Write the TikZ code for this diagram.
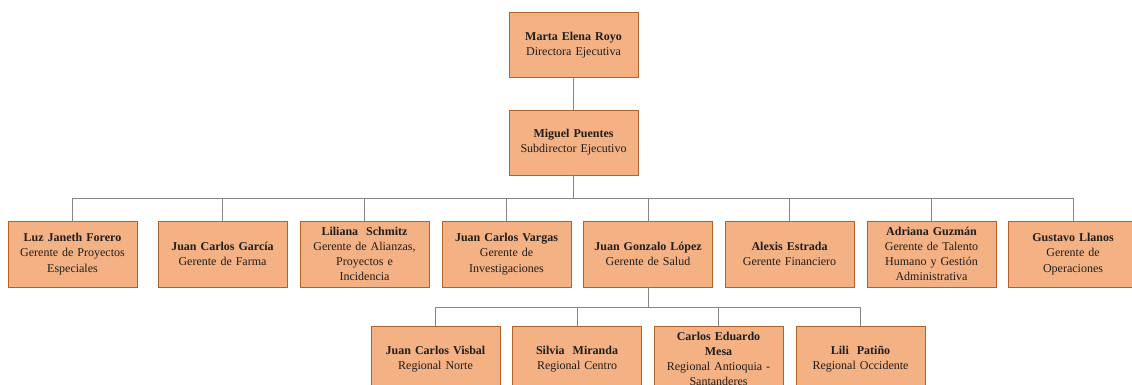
\documentclass[tikz,border=0pt]{standalone}
\usepackage{fontspec}
\setmainfont{Liberation Serif}
\begin{document}
\begin{tikzpicture}[x=1pt,y=-1pt,
  card/.style={draw=cardedge, fill=cardfill, line width=0.9pt,
    minimum width=129pt, minimum height=66pt, text width=127pt,
    align=center, inner sep=0pt, font=\fontsize{12}{15.2}\selectfont, text=inkdark},
  small/.style={card, minimum height=65pt},
  link/.style={draw=linkgray, line width=0.9pt}]
\definecolor{cardfill}{HTML}{F4B183}
\definecolor{cardedge}{HTML}{B4612A}
\definecolor{linkgray}{HTML}{858585}
\definecolor{inkdark}{HTML}{1E1E1E}

\useasboundingbox (0,0) rectangle (1132,385);
\fill[white] (0,0) rectangle (1132,385);
\clip (0,0) rectangle (1132,385);

% direction
\node[small] (dir) at (573.5,45) {\textbf{Marta Elena Royo}\\Directora Ejecutiva};
\node[small] (sub) at (573.5,142.5) {\textbf{Miguel Puentes}\\Subdirector Ejecutivo};

% managers
\node[card] (g1) at (72.5,254)   {\textbf{Luz Janeth Forero}\\Gerente de Proyectos\\Especiales};
\node[card] (g2) at (222.5,254)  {\textbf{Juan Carlos García}\\Gerente de Farma};
\node[card] (g3) at (364.5,254)  {\textbf{Liliana~ Schmitz}\\Gerente de Alianzas,\\Proyectos e\\Incidencia};
\node[card] (g4) at (506.5,254)  {\textbf{Juan Carlos Vargas}\\Gerente de\\Investigaciones};
\node[card] (g5) at (648,254)    {\textbf{Juan Gonzalo López}\\Gerente de Salud};
\node[card] (g6) at (789.5,254)  {\textbf{Alexis Estrada}\\Gerente Financiero};
\node[card] (g7) at (931.5,254)  {\textbf{Adriana Guzmán}\\Gerente de Talento\\Humano y Gestión\\Administrativa};
\node[card] (g8) at (1073,254)   {\textbf{Gustavo Llanos}\\Gerente de\\Operaciones};

% regional offices
\node[card] (r1) at (435.5,359) {\textbf{Juan Carlos Visbal}\\Regional Norte};
\node[card] (r2) at (577,359)   {\textbf{Silvia~ Miranda}\\Regional Centro};
\node[card] (r3) at (718.5,359) {\textbf{Carlos Eduardo\\Mesa}\\Regional Antioquia -\\Santanderes};
\node[card] (r4) at (860.5,359) {\textbf{Lili~ Patiño}\\Regional Occidente};

% connectors
\coordinate (busA) at (573.5,198);
\coordinate (busB) at (648,307);
\draw[link] (dir.south) -- (sub.north);
\draw[link] (sub.south) -- (busA);
\foreach \g in {g1,g2,g3,g4,g5,g6,g7,g8} \draw[link] (\g.north) |- (busA);
\draw[link] (g5.south) -- (busB);
\foreach \r in {r1,r2,r3,r4} \draw[link] (\r.north) |- (busB);
\end{tikzpicture}
\end{document}
